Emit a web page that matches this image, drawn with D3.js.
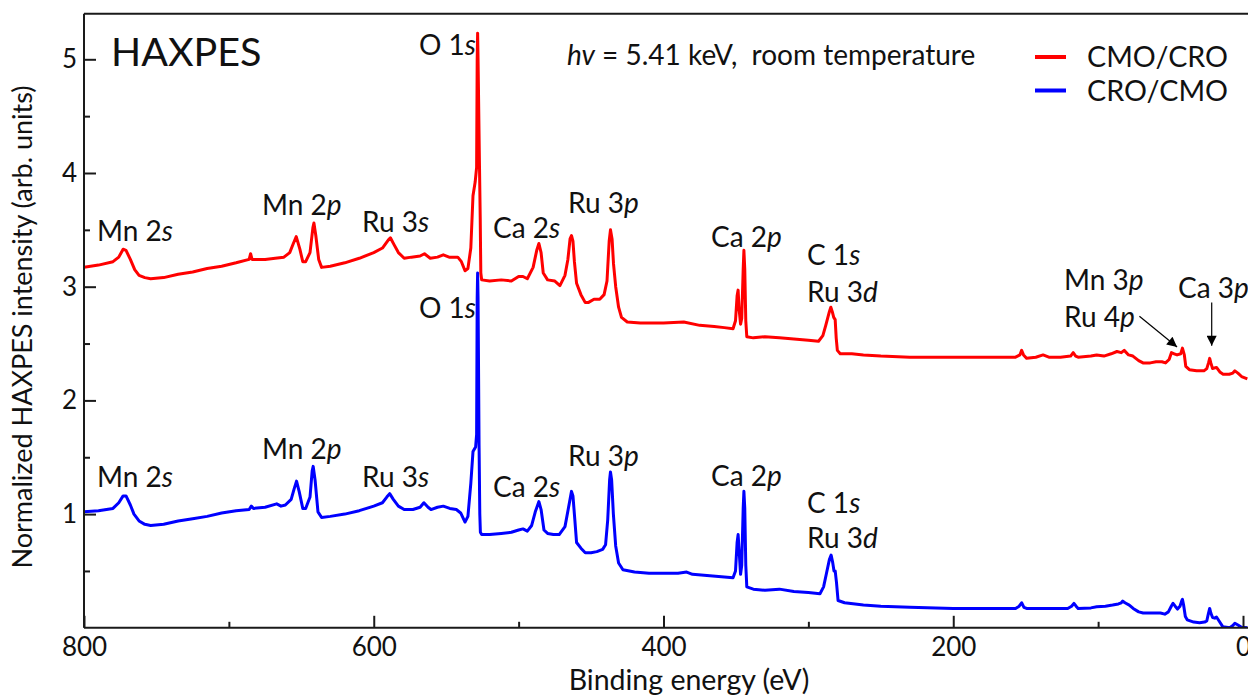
<!DOCTYPE html>
<html>
<head>
<meta charset="utf-8">
<script src="https://cdn.jsdelivr.net/npm/d3@7"></script>
<style>
  html, body { margin: 0; padding: 0; background: #fff; }
  svg { display: block; font-family: Lato, "Open Sans", sans-serif; }
  text { white-space: pre; fill: #111; }
</style>
</head>
<body>
<svg id="chart" width="1248" height="696"></svg>
<script>
// Survey spectra: binding energy (eV) and normalized intensity, offset per sample
const cmoCroEnergy = [800,790,780,776,773,771,768,765,762,758,754,745,735,725,715,705,695,686,685,684,675,668,662,658,655.5,653.5,651,649,647,644,642,641.3,640,638,636,630,620,610,600,594,590,588.5,586,583,579,574,568,565,561,556,552,548,542,539.5,537,535,533,531.5,530,529,528.6,528.3,528,527,526.5,526.1,525.5,520,512,505,500,497,494,490,487.5,486,484.5,483,480,475,471.5,468,466,464.5,463.5,462.5,461.5,460,457,454,452,448,444,441,439,437.5,436.6,435.5,434.5,433,431,429,425,416,400,386,375,365,358,352,350.3,349.2,348.5,347.8,346.8,346,345,344.5,343.9,343.2,342.5,338,330,320,310,300,293,290,288,285.5,284.5,283.5,282.5,281.5,280.8,280,278,270,262,250,230,216,200,180,157,154,152.8,151.5,149.4,143,138,134,126,119,117.2,115.5,113.8,105,101,96,91,87,84,82,79,76,72,69,64,60,56,53.5,51,49.4,47.5,45.5,43,41.8,40.5,39.5,37,32,27,25,23.8,23,22.2,21,18.3,16,13.7,9.5,7,5.6,3.5,1,-3];
const cmoCroIntensity = [3.17,3.19,3.22,3.26,3.33,3.32,3.24,3.15,3.10,3.08,3.07,3.08,3.11,3.13,3.16,3.18,3.21,3.24,3.29,3.24,3.24,3.25,3.26,3.30,3.38,3.44,3.33,3.22,3.22,3.30,3.52,3.56,3.45,3.24,3.17,3.18,3.21,3.25,3.30,3.34,3.41,3.43,3.37,3.30,3.25,3.26,3.27,3.29,3.25,3.26,3.28,3.26,3.26,3.22,3.14,3.16,3.34,3.80,3.92,4.05,5.00,5.23,5.00,4.05,3.60,3.12,3.06,3.05,3.06,3.05,3.09,3.09,3.07,3.17,3.32,3.38,3.30,3.12,3.06,3.05,3.01,3.10,3.24,3.42,3.45,3.40,3.22,3.03,2.93,2.86,2.86,2.89,2.89,2.93,3.05,3.40,3.50,3.42,3.20,3.00,2.82,2.73,2.69,2.68,2.68,2.69,2.66,2.65,2.64,2.63,2.70,2.92,2.97,2.80,2.67,2.72,3.15,3.32,3.15,2.70,2.56,2.55,2.56,2.55,2.54,2.53,2.52,2.57,2.66,2.78,2.82,2.78,2.73,2.71,2.55,2.44,2.41,2.41,2.40,2.39,2.38,2.38,2.38,2.38,2.38,2.40,2.44,2.40,2.37,2.38,2.40,2.38,2.38,2.39,2.42,2.39,2.38,2.39,2.40,2.39,2.41,2.43,2.42,2.44,2.40,2.39,2.35,2.33,2.33,2.34,2.34,2.33,2.36,2.42,2.41,2.40,2.41,2.46,2.40,2.30,2.27,2.26,2.26,2.28,2.33,2.37,2.33,2.28,2.29,2.25,2.23,2.23,2.24,2.26,2.24,2.21,2.19];

const croCmoEnergy = [800,790,780,776,773,771,768,765.5,762,758,754,745,735,725,715,705,695,686,684.5,683,675,667,664,661,657,655,653.3,651.5,649,647,644,642.5,641.8,640.5,638.5,636,630,620,610,600,594,591,589,586.5,583,579,573,568,565.4,562.5,560.5,556,552,547.5,543,540,537,535,533,531.5,529.7,529,528.6,528.3,528,527.3,526.8,526.4,525.5,520,512,505,500,497,494,491,488.5,486,484.5,482.5,480,476,472,468,465.8,463.5,462.5,461.2,460,457,454,450,446,442,440,438.5,437.2,436.6,435.8,434.6,433,431,428,420,410,400,390,384,380,370,360,352,350.3,349.2,348.5,347.8,346.8,346,345,344.5,343.9,343.2,342.5,338,330,320,310,300,292,289.5,287.5,285.5,284.3,283.3,282.3,281.5,280.6,279.5,275,262,250,230,200,180,157,154.5,152.8,151.2,149.4,135,121,118.3,116.7,115.2,113.8,105,101,95,90,86,84,83,81.5,78.5,75.8,72,68.9,62,57,54,51.5,49.5,48.3,46.8,45.2,43.5,42.2,41.8,41,39.8,38.5,34,30,26.5,25,23.8,23,22.2,21,19.5,18.3,16.5,14,9.1,7,5.6,3.5,1,-3];
const croCmoIntensity = [1.02,1.03,1.05,1.10,1.16,1.16,1.08,1.00,0.94,0.91,0.90,0.91,0.94,0.96,0.98,1.01,1.03,1.04,1.07,1.05,1.06,1.09,1.07,1.08,1.13,1.22,1.29,1.20,1.05,1.05,1.15,1.38,1.42,1.30,1.02,0.97,0.98,1.00,1.03,1.07,1.10,1.15,1.18,1.13,1.07,1.04,1.04,1.06,1.10,1.06,1.04,1.06,1.07,1.05,1.04,1.01,0.93,0.98,1.27,1.55,1.59,1.70,2.90,3.12,2.90,1.60,1.00,0.84,0.82,0.82,0.83,0.84,0.86,0.87,0.85,0.90,1.02,1.11,1.04,0.86,0.83,0.82,0.82,0.89,1.04,1.20,1.16,0.95,0.75,0.70,0.66,0.66,0.67,0.69,0.73,0.95,1.30,1.37,1.30,1.00,0.72,0.57,0.51,0.49,0.48,0.48,0.48,0.49,0.47,0.46,0.45,0.44,0.50,0.75,0.82,0.68,0.47,0.55,1.05,1.20,1.05,0.55,0.36,0.34,0.33,0.34,0.32,0.31,0.30,0.36,0.48,0.60,0.64,0.58,0.50,0.50,0.40,0.24,0.22,0.20,0.19,0.18,0.17,0.17,0.17,0.19,0.22,0.18,0.17,0.17,0.17,0.19,0.215,0.19,0.17,0.175,0.185,0.19,0.20,0.21,0.22,0.235,0.22,0.20,0.17,0.14,0.13,0.13,0.13,0.12,0.14,0.19,0.215,0.19,0.165,0.19,0.24,0.25,0.20,0.10,0.07,0.05,0.045,0.05,0.06,0.13,0.17,0.13,0.09,0.085,0.095,0.06,0.01,0.0,0.02,0.04,0.025,0.005,0.0];

const seriesNames = ["CMO/CRO", "CRO/CMO"];
const seriesColors = ["#ff0000", "#0000ff"];

const xMajorTicks = [800, 600, 400, 200, 0];
const xMinorTicks = [700, 500, 300, 100];
const yMajorTicks = [1, 2, 3, 4, 5];
const yMinorTicks = [0.5, 1.5, 2.5, 3.5, 4.5];

// Peak labels: [main text, italic orbital letter, left x, baseline y]
const peakLabels = [
  ["Mn 2", "s", 97, 241], ["Mn 2", "p", 262, 215], ["Ru 3", "s", 362, 232],
  ["O 1", "s", 419, 55], ["Ca 2", "s", 493, 238], ["Ru 3", "p", 568, 213],
  ["Ca 2", "p", 711, 247], ["C 1", "s", 807, 265], ["Ru 3", "d", 807, 302],
  ["Mn 3", "p", 1064, 290], ["Ru 4", "p", 1064, 327], ["Ca 3", "p", 1178, 298],
  ["O 1", "s", 419, 318], ["Mn 2", "s", 97, 487], ["Mn 2", "p", 262, 459],
  ["Ru 3", "s", 362, 487], ["Ca 2", "s", 493, 497], ["Ru 3", "p", 568, 466],
  ["Ca 2", "p", 711, 486], ["C 1", "s", 807, 513], ["Ru 3", "d", 807, 548]
];

// Arrows pointing at the shallow core levels: [from eV, from I, to eV, to I]
const arrows = [
  [71.5, 2.74, 45.5, 2.47],
  [21.6, 2.86, 21.6, 2.48]
];

const W = 1248, H = 696;
const svg = d3.select("#chart");

const x = d3.scaleLinear().domain([800, 0]).range([84, 1243]);
const y = d3.scaleLinear().domain([0, 5]).range([627.8, 59.3]);
const yTop = y(5.4);
const axisColor = "#1a1a1a";

svg.append("defs").append("clipPath").attr("id", "plotClip")
  .append("rect").attr("x", x(800)).attr("y", yTop).attr("width", W - x(800)).attr("height", y(0) - yTop);

// Spectra
const line = d3.line().x(d => x(d[0])).y(d => y(d[1]));
const spectra = [
  d3.zip(cmoCroEnergy, cmoCroIntensity),
  d3.zip(croCmoEnergy, croCmoIntensity)
];
svg.append("g").attr("clip-path", "url(#plotClip)")
  .selectAll("path").data(spectra).join("path")
  .attr("d", line)
  .attr("fill", "none")
  .attr("stroke", (d, i) => seriesColors[i])
  .attr("stroke-width", 3)
  .attr("stroke-linejoin", "round");

// Axes with inward ticks
function styleAxis(g) {
  g.select(".domain").attr("stroke", axisColor).attr("stroke-width", 2);
  g.selectAll(".tick line").attr("stroke", axisColor).attr("stroke-width", 2);
  g.selectAll(".tick text").attr("fill", "#111").style("font-size", "26px").style("font-family", "Lato, sans-serif");
}

const xAxisG = svg.append("g").attr("transform", `translate(0,${y(0)})`)
  .call(d3.axisBottom(x).tickValues(xMajorTicks).tickSizeInner(-12).tickSizeOuter(0).tickPadding(10).tickFormat(d3.format("d")))
  .call(styleAxis);
xAxisG.selectAll(".domain").attr("d", `M${x(800)},0H${W}`);
svg.append("g").attr("transform", `translate(0,${y(0)})`)
  .call(d3.axisBottom(x).tickValues(xMinorTicks).tickSizeInner(-6).tickSizeOuter(0).tickFormat(""))
  .call(styleAxis)
  .select(".domain").remove();

svg.append("g").attr("transform", `translate(${x(800)},0)`)
  .call(d3.axisLeft(y).tickValues(yMajorTicks).tickSizeInner(-12).tickSizeOuter(0).tickPadding(7).tickFormat(d3.format("d")))
  .call(styleAxis)
  .select(".domain").attr("d", `M0,${y(0)}V${yTop}`);
svg.append("g").attr("transform", `translate(${x(800)},0)`)
  .call(d3.axisLeft(y).tickValues(yMinorTicks).tickSizeInner(-6).tickSizeOuter(0).tickFormat(""))
  .call(styleAxis)
  .select(".domain").remove();

// Top frame line
svg.append("line").attr("x1", x(800)).attr("x2", W).attr("y1", yTop).attr("y2", yTop)
  .attr("stroke", axisColor).attr("stroke-width", 2);

// Axis titles
svg.append("text").attr("x", 689).attr("y", 690).attr("text-anchor", "middle")
  .style("font-size", "28.5px").text("Binding energy (eV)");
svg.append("text").attr("transform", "translate(32,327) rotate(-90)").attr("text-anchor", "middle")
  .style("font-size", "27px").text("Normalized HAXPES intensity (arb. units)");

// Panel title and conditions
svg.append("text").attr("x", 111).attr("y", 66).style("font-size", "39.5px").text("HAXPES");
const cond = svg.append("text").attr("x", 567).attr("y", 65).style("font-size", "28px");
cond.append("tspan").style("font-style", "italic").text("hv");
cond.append("tspan").text(" = 5.41 keV,  room temperature");

// Legend
const legend = svg.append("g");
seriesNames.forEach((name, i) => {
  const ly = [57, 90.5][i];
  legend.append("line").attr("x1", 1035).attr("x2", 1066).attr("y1", ly).attr("y2", ly)
    .attr("stroke", seriesColors[i]).attr("stroke-width", 4);
  legend.append("text").attr("x", 1087).attr("y", ly + 10).style("font-size", "28.7px").text(name);
});

// Peak labels
peakLabels.forEach(([main, orb, lx, ly]) => {
  const t = svg.append("text").attr("x", lx).attr("y", ly).style("font-size", "28px");
  t.append("tspan").text(main);
  t.append("tspan").style("font-style", "italic").text(orb);
});

// Arrows
svg.select("defs").append("marker").attr("id", "head")
  .attr("viewBox", "0 0 10 10").attr("refX", 10).attr("refY", 5)
  .attr("markerWidth", 12).attr("markerHeight", 10).attr("markerUnits", "userSpaceOnUse")
  .attr("orient", "auto")
  .append("path").attr("d", "M0,0L10,5L0,10Z").attr("fill", "#000");
svg.append("g").selectAll("line").data(arrows).join("line")
  .attr("x1", d => x(d[0])).attr("y1", d => y(d[1]))
  .attr("x2", d => x(d[2])).attr("y2", d => y(d[3]))
  .attr("stroke", "#000").attr("stroke-width", 1.2)
  .attr("marker-end", "url(#head)");
</script>
</body>
</html>
